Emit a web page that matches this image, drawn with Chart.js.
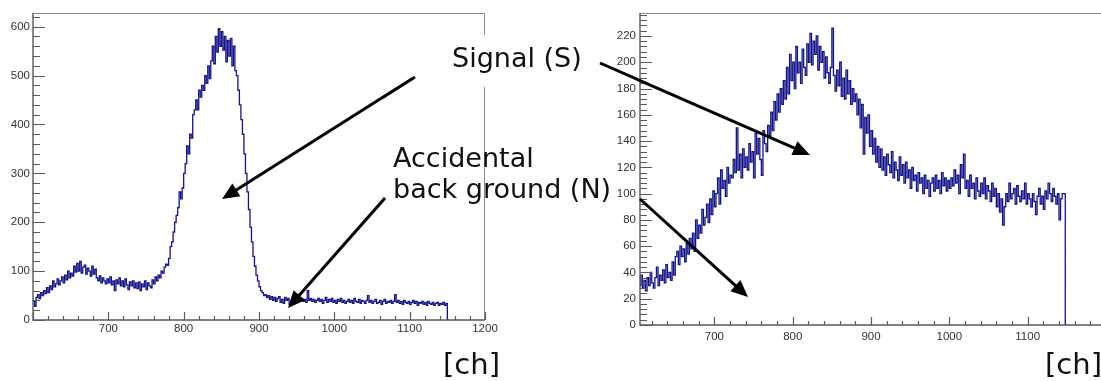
<!DOCTYPE html>
<html>
<head>
<meta charset="utf-8">
<script src="https://cdn.jsdelivr.net/npm/chart.js@4.4.1/dist/chart.umd.min.js"></script>
<style>
  html, body { margin: 0; padding: 0; background: #fff; overflow: hidden; width: 1101px; height: 381px; }
  .panel { position: absolute; top: 0; }
  #overlay { position: absolute; left: 0; top: 0; }
  #overlay text { font-family: "DejaVu Sans", "Noto Sans", sans-serif; fill: #111; }
</style>
</head>
<body>
<div class="panel" style="left:0; width:500px; height:345px;"><canvas id="leftHist"></canvas></div>
<div class="panel" style="left:600px; width:510px; height:350px;"><canvas id="rightHist"></canvas></div>
<svg id="overlay" width="1101" height="381" xmlns="http://www.w3.org/2000/svg">
  <rect x="440" y="35" width="158" height="52" fill="#fff"/>
  <text x="452" y="67" font-size="27">Signal (S)</text>
  <text x="393" y="167" font-size="27">Accidental</text>
  <text x="393" y="198" font-size="27">back ground (N)</text>
  <text x="443" y="374" font-size="29">[ch]</text>
  <text x="1045" y="374" font-size="29">[ch]</text>
  <g id="arrows"></g>
</svg>
<script>
// Histogram binning (channel units)
const BIN_WIDTH = 2;
const leftStart = 600;
const rightStart = 604;

// Tick positions
const leftXTicks = [700, 800, 900, 1000, 1100, 1200];
const rightXTicks = [700, 800, 900, 1000, 1100];
const leftYTicks = [0, 100, 200, 300, 400, 500, 600];
const rightYTicks = [0, 20, 40, 60, 80, 100, 120, 140, 160, 180, 200, 220];

// Coincidence timing spectrum, full range (2-channel bins from 600)
const leftCounts = [
  44, 38, 28, 46, 52, 44, 56, 50, 60, 54,
  66, 56, 70, 62, 80, 68, 74, 84, 72, 80,
  88, 76, 92, 82, 100, 86, 96, 90, 110, 98,
  116, 100, 120, 96, 108, 112, 94, 106, 100, 90,
  110, 94, 104, 86, 80, 90, 76, 86, 80, 74,
  84, 76, 88, 72, 80, 60, 82, 74, 86, 70,
  80, 68, 84, 72, 62, 78, 70, 80, 66, 76,
  64, 78, 60, 74, 68, 80, 62, 76, 70, 66,
  82, 74, 88, 80, 92, 86, 100, 96, 108, 114,
  112, 126, 150, 160, 180, 200, 214, 230, 262, 248,
  270, 300, 320, 356, 340, 380, 372, 420, 430, 450,
  430, 470, 456, 480, 470, 500, 484, 520, 494, 530,
  560, 524, 580, 548, 596, 560, 590, 552, 580, 528,
  572, 540, 576, 520, 560, 510, 500, 470, 440, 410,
  380, 340, 300, 262, 226, 190, 160, 130, 110, 92,
  80, 68, 60, 56, 50, 52, 46, 50, 42, 48,
  40, 46, 38, 44, 48, 36, 42, 34, 46, 40,
  44, 32, 40, 46, 38, 42, 36, 48, 40, 44,
  38, 42, 36, 60, 40, 44, 38, 42, 36, 40,
  44, 38, 42, 34, 40, 46, 36, 42, 38, 44,
  36, 40, 34, 42, 38, 44, 36, 40, 34, 38,
  42, 36, 40, 34, 44, 38, 36, 42, 34, 40,
  38, 34, 40, 50, 36, 40, 34, 38, 42, 34,
  36, 40, 32, 38, 42, 34, 38, 36, 40, 34,
  38, 52, 36, 40, 34, 38, 32, 40, 36, 34,
  38, 32, 36, 40, 34, 38, 30, 36, 34, 38,
  32, 36, 30, 38, 34, 32, 36, 30, 34, 36,
  30, 34, 32, 36, 30, 34
];

// Timing spectrum after selection (2-channel bins from 604)
const rightCounts = [
  36, 30, 38, 28, 34, 26, 36, 30, 40, 32,
  28, 36, 44, 30, 38, 34, 42, 32, 46, 36,
  40, 34, 48, 38, 52, 56, 46, 60, 52, 58,
  48, 62, 54, 66, 58, 70, 56, 80, 66, 76,
  70, 88, 76, 82, 92, 78, 96, 84, 102, 90,
  100, 112, 92, 118, 104, 110, 98, 120, 108, 114,
  112, 126, 116, 150, 118, 130, 112, 134, 120, 128,
  118, 138, 124, 132, 112, 146, 130, 142, 126, 114,
  148, 138, 132, 152, 144, 162, 148, 170, 156, 176,
  162, 180, 168, 186, 172, 196, 176, 206, 186, 200,
  180, 212, 192, 200, 184, 210, 196, 190, 214, 200,
  222, 198, 216, 206, 220, 194, 212, 200, 208, 188,
  204, 192, 184, 196, 226, 190, 178, 194, 182, 200,
  174, 188, 172, 194, 176, 186, 168, 180, 170, 176,
  160, 172, 150, 168, 130, 158, 146, 160, 136, 148,
  130, 142, 124, 136, 120, 134, 118, 128, 114, 130,
  122, 116, 132, 112, 124, 118, 110, 128, 114, 122,
  108, 124, 112, 118, 104, 120, 110, 114, 102, 116,
  108, 112, 100, 114, 104, 110, 98, 108, 112, 102,
  114, 104, 110, 100, 116, 106, 112, 102, 110, 104,
  112, 106, 118, 108, 114, 100, 122, 112, 130, 104,
  110, 98, 114, 104, 108, 96, 112, 102, 98, 108,
  100, 112, 96, 106, 102, 94, 108, 98, 104, 90,
  100, 86, 96, 76, 90, 100, 94, 108, 96, 100,
  104, 92, 106, 98, 94, 102, 96, 108, 92, 100,
  96, 90, 100, 94, 84, 98, 104, 92, 98, 88,
  102, 96, 108, 100, 94, 104, 98, 92, 100, 80,
  96, 100, 100
];

// Turn bin contents into step-line points, closing the last bin down to zero
function histPoints(start, counts) {
  const pts = counts.map((c, i) => ({ x: start + i * BIN_WIDTH, y: c }));
  pts.push({ x: start + counts.length * BIN_WIDTH, y: 0 });
  return pts;
}

// Frame and inward-pointing ticks in the classic physics-plot style
const frameTicks = {
  id: 'frameTicks',
  afterDatasetsDraw(chart, args, o) {
    const { ctx, chartArea: a, scales: { x, y } } = chart;
    ctx.save();
    ctx.lineCap = 'butt';
    ctx.strokeStyle = '#8c8c8c';
    ctx.lineWidth = 1;
    ctx.beginPath();
    ctx.moveTo(a.left, a.top + 0.5); ctx.lineTo(a.right, a.top + 0.5);
    if (o.rightEdge) { ctx.moveTo(a.right - 0.5, a.top); ctx.lineTo(a.right - 0.5, a.bottom); }
    ctx.stroke();

    ctx.strokeStyle = '#5a5a5a';
    ctx.lineWidth = 1.4;
    ctx.beginPath();
    ctx.moveTo(a.left, a.top); ctx.lineTo(a.left, a.bottom); ctx.lineTo(a.right, a.bottom);
    ctx.stroke();

    ctx.lineWidth = 1.2;
    ctx.beginPath();
    for (let v = Math.ceil(x.min / o.xMinor) * o.xMinor; v <= x.max; v += o.xMinor) {
      const px = Math.round(x.getPixelForValue(v)) + 0.5;
      const len = v % o.xMajor === 0 ? o.xMajorLen : o.xMinorLen;
      ctx.moveTo(px, a.bottom); ctx.lineTo(px, a.bottom - len);
    }
    for (let v = Math.ceil(y.min / o.yMinor) * o.yMinor; v <= y.max; v += o.yMinor) {
      const py = Math.round(y.getPixelForValue(v)) + 0.5;
      const len = v % o.yMajor === 0 ? o.yMajorLen : o.yMinorLen;
      ctx.moveTo(a.left, py); ctx.lineTo(a.left + len, py);
    }
    ctx.stroke();
    ctx.restore();
  }
};

const tickFont = { family: '"Liberation Sans", Arial, sans-serif', size: 11.5 };
const tickColor = '#333333';

function buildChart(id, cfg) {
  return new Chart(document.getElementById(id), {
    type: 'line',
    data: {
      datasets: [{
        data: histPoints(cfg.start, cfg.counts),
        stepped: 'after',
        borderColor: '#13138c',
        borderWidth: 1.3,
        pointRadius: 0,
        fill: false
      }]
    },
    options: {
      responsive: true,
      maintainAspectRatio: false,
      animation: false,
      events: [],
      layout: { padding: { top: 13, right: cfg.padRight, left: 0, bottom: 0 } },
      plugins: {
        legend: { display: false },
        tooltip: { enabled: false },
        frameTicks: cfg.frame
      },
      scales: {
        x: {
          type: 'linear',
          min: cfg.xMin,
          max: cfg.xMax,
          grid: { display: false, drawTicks: false },
          border: { display: false },
          ticks: {
            autoSkip: false,
            maxRotation: 0,
            padding: cfg.xPad,
            font: tickFont,
            color: tickColor,
            callback: v => String(v)
          },
          afterBuildTicks(s) { s.ticks = cfg.xTicks.map(v => ({ value: v })); },
          afterFit(s) { s.height = cfg.xHeight; }
        },
        y: {
          min: 0,
          max: cfg.yMax,
          grid: { display: false, drawTicks: false },
          border: { display: false },
          ticks: {
            autoSkip: false,
            padding: cfg.yPad,
            font: tickFont,
            color: tickColor,
            callback: v => String(v)
          },
          afterBuildTicks(s) { s.ticks = cfg.yTicks.map(v => ({ value: v })); },
          afterFit(s) { s.width = cfg.yWidth; }
        }
      }
    },
    plugins: [frameTicks]
  });
}

buildChart('leftHist', {
  start: leftStart, counts: leftCounts,
  xMin: 600, xMax: 1200, yMax: 628, xTicks: leftXTicks, yTicks: leftYTicks,
  padRight: 15, xHeight: 25, yWidth: 33, xPad: 2, yPad: 3,
  frame: { rightEdge: true, xMinor: 20, xMajor: 100, xMajorLen: 8, xMinorLen: 4,
           yMinor: 20, yMajor: 100, yMajorLen: 12, yMinorLen: 7 }
});

buildChart('rightHist', {
  start: rightStart, counts: rightCounts,
  xMin: 605, xMax: 1200, yMax: 237.5, xTicks: rightXTicks, yTicks: rightYTicks,
  padRight: 4, xHeight: 25, yWidth: 40, xPad: 5, yPad: 4,
  frame: { rightEdge: false, xMinor: 20, xMajor: 100, xMajorLen: 8, xMinorLen: 4,
           yMinor: 4, yMajor: 20, yMajorLen: 12, yMinorLen: 7 }
});

// Annotation arrows
const arrowList = [
  [415, 77, 222, 199],
  [385, 198, 288, 308],
  [600, 63, 810, 155],
  [640, 199, 748, 297]
];
const NS = 'http://www.w3.org/2000/svg';
const g = document.getElementById('arrows');
arrowList.forEach(([x1, y1, x2, y2]) => {
  const dx = x2 - x1, dy = y2 - y1, L = Math.hypot(dx, dy);
  const ux = dx / L, uy = dy / L, head = 17, half = 7.5;
  const bx = x2 - ux * head, by = y2 - uy * head;
  const line = document.createElementNS(NS, 'line');
  line.setAttribute('x1', x1); line.setAttribute('y1', y1);
  line.setAttribute('x2', bx + ux * 2); line.setAttribute('y2', by + uy * 2);
  line.setAttribute('stroke', '#000'); line.setAttribute('stroke-width', '3');
  g.appendChild(line);
  const poly = document.createElementNS(NS, 'polygon');
  poly.setAttribute('points', `${x2},${y2} ${bx - uy * half},${by + ux * half} ${bx + uy * half},${by - ux * half}`);
  poly.setAttribute('fill', '#000');
  g.appendChild(poly);
});
</script>
</body>
</html>
